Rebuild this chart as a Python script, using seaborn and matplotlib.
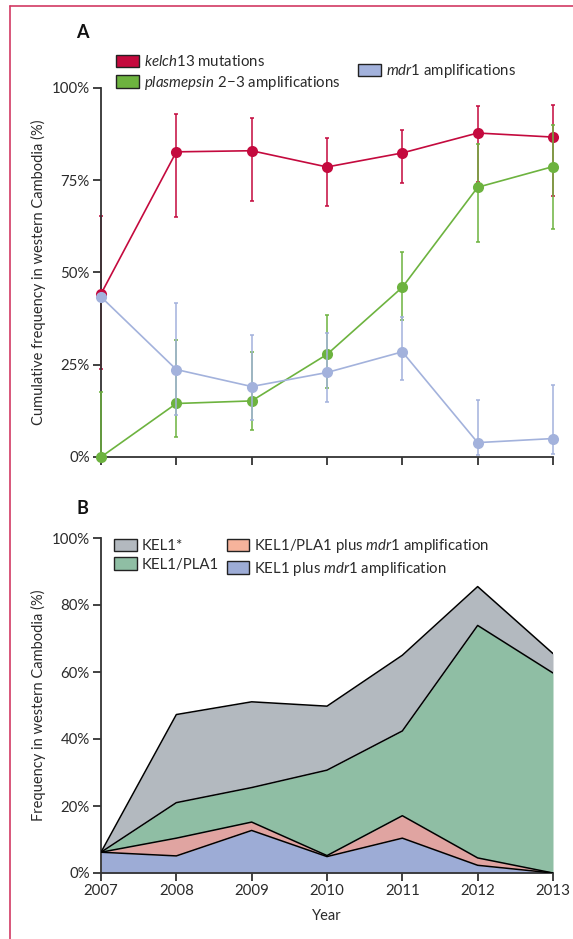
import matplotlib
matplotlib.use("Agg")
import matplotlib.pyplot as plt
import seaborn as sns
import numpy as np
import pandas as pd
from matplotlib.patches import Patch
from matplotlib.lines import Line2D
from matplotlib.ticker import FuncFormatter

# ---------------- data ----------------
years = [2007, 2008, 2009, 2010, 2011, 2012, 2013]

kelch = [44.2, 82.7, 83.0, 78.6, 82.4, 87.8, 86.7]
kelch_lo = [23.9, 65.1, 69.5, 68.1, 74.2, 74.4, 70.8]
kelch_hi = [65.4, 93.0, 91.9, 86.4, 88.6, 95.2, 95.4]

plas = [0.0, 14.5, 15.2, 27.8, 46.0, 73.1, 78.7]
plas_lo = [0.0, 5.5, 7.3, 18.8, 37.0, 58.2, 61.7]
plas_hi = [17.7, 31.7, 28.5, 38.5, 55.5, 84.8, 90.0]

mdr = [43.4, 23.7, 19.1, 22.9, 28.5, 3.9, 5.0]
mdr_lo = [43.4, 11.4, 10.0, 14.8, 20.9, 0.5, 0.7]
mdr_hi = [43.4, 41.6, 33.1, 33.5, 37.9, 15.4, 19.5]

# panel B layers (stacked, bottom to top)
kel1_mdr1 = [6.2, 5.1, 12.7, 4.9, 10.4, 2.3, 0.0]
kel1pla1_mdr1 = [0.0, 5.3, 2.5, 0.3, 6.7, 2.2, 0.0]
kel1pla1 = [0.0, 10.6, 10.3, 25.5, 25.3, 69.4, 59.7]
kel1_star = [0.0, 26.3, 25.6, 19.1, 22.6, 11.6, 5.8]

ticks_a = [0, 25, 50, 75, 100]
ticks_b = [0, 20, 40, 60, 80, 100]

# ---------------- style ----------------
sns.set_theme(style="ticks")
plt.rcParams['font.family'] = ['Lato', 'DejaVu Sans']
plt.rcParams['mathtext.fontset'] = 'custom'
plt.rcParams['mathtext.rm'] = 'Lato'
plt.rcParams['mathtext.it'] = 'Lato:italic'

TXT = '#2b2b2b'
C_RED = '#c40a3e'
C_GREEN = '#6db33f'
C_BLUE = '#a3b2dc'

fig = plt.figure(figsize=(5.73, 9.39), dpi=100)
axA = fig.add_axes([101/573, 1-457/939, 452/573, 369/939])
axB = fig.add_axes([101/573, 1-873/939, 452/573, 335/939])

pct = FuncFormatter(lambda v, p: f"{int(v)}%")

def style_axis(ax, ticks):
    for s in ['top', 'right']:
        ax.spines[s].set_visible(False)
    for s in ['left', 'bottom']:
        ax.spines[s].set_color('#333333')
        ax.spines[s].set_linewidth(1.3)
    ax.set_xlim(2007, 2013)
    ax.set_ylim(0, 100)
    ax.set_yticks(ticks)
    ax.yaxis.set_major_formatter(pct)
    ax.set_xticks(years)
    ax.tick_params(axis='both', direction='out', length=6, width=1.3,
                   color='#333333', labelcolor=TXT, labelsize=10.8, pad=2)

# ---------------- panel A ----------------
series = [
    (kelch, kelch_lo, kelch_hi, C_RED),
    (plas, plas_lo, plas_hi, C_GREEN),
    (mdr, mdr_lo, mdr_hi, C_BLUE),
]
for z, (vals, lo, hi, col) in enumerate(series):
    v = np.array(vals); l = np.array(lo); h = np.array(hi)
    axA.errorbar(years, v, yerr=[v - l, h - v], fmt='none', ecolor=col,
                 alpha=0.85, elinewidth=1.3, capsize=1.6, capthick=1.3,
                 zorder=2 + 2*z, clip_on=False)
    df = pd.DataFrame({'year': years, 'val': vals})
    sns.lineplot(data=df, x='year', y='val', ax=axA, color=col, lw=1.2,
                 marker='o', markersize=8, markeredgewidth=0,
                 zorder=3 + 2*z, clip_on=False)

style_axis(axA, ticks_a)
axA.set_xticklabels([])
axA.set_xlabel('')
axA.set_ylabel('Cumulative frequency in western Cambodia (%)', fontsize=10.5,
               color=TXT, labelpad=4)

legkw = dict(frameon=False, fontsize=10.8, handlelength=1.5, handleheight=0.9,
             handletextpad=0.35, borderaxespad=0, borderpad=0.2)
legA1 = [Patch(facecolor=C_RED, edgecolor='#222222', lw=1.0,
               label=r'$\mathit{kelch13}$ mutations'),
         Patch(facecolor=C_GREEN, edgecolor='#222222', lw=1.0,
               label=r'$\mathit{plasmepsin\ 2\!-\!3}$ amplifications')]
legA2 = [Patch(facecolor=C_BLUE, edgecolor='#222222', lw=1.0,
               label=r'$\mathit{mdr1}$ amplifications')]
l1 = fig.legend(handles=legA1, loc='upper left', bbox_to_anchor=(113/573, 1-51/939),
                labelspacing=0.3, **legkw)
for t in l1.get_texts():
    t.set_color(TXT)
l2 = fig.legend(handles=legA2, loc='upper left', bbox_to_anchor=(355/573, 1-59/939),
                **legkw)
for t in l2.get_texts():
    t.set_color(TXT)

# ---------------- panel B ----------------
B_BLUE = '#9dacd6'
B_RED = '#e0a4a1'
B_GREEN = '#8fbea4'
B_GREY = '#b3b9bf'
layers = [kel1_mdr1, kel1pla1_mdr1, kel1pla1, kel1_star]
axB.stackplot(years, *layers, colors=[B_BLUE, B_RED, B_GREEN, B_GREY],
              linewidth=0, zorder=1)
cum = np.cumsum(np.array(layers), axis=0)
for row in cum:
    sns.lineplot(x=years, y=row, ax=axB, color='black', lw=1.1, zorder=3)

style_axis(axB, ticks_b)
axB.set_xticklabels([str(y) for y in years])
axB.set_xlabel('Year', fontsize=10.5, color=TXT, labelpad=8)
axB.set_ylabel('Frequency in western Cambodia (%)', fontsize=10.5, color=TXT,
               labelpad=4)

legB = [Patch(facecolor=B_GREY, edgecolor='#222222', lw=1.0, label='KEL1*'),
        Patch(facecolor=B_GREEN, edgecolor='#222222', lw=1.0, label='KEL1/PLA1'),
        Patch(facecolor='#f6b39b', edgecolor='#222222', lw=1.0,
              label=r'KEL1/PLA1 plus $\mathit{mdr1}$ amplification'),
        Patch(facecolor=B_BLUE, edgecolor='#222222', lw=1.0,
              label=r'KEL1 plus $\mathit{mdr1}$ amplification')]
l3 = fig.legend(handles=legB, loc='upper left', bbox_to_anchor=(111/573, 1-534/939),
                ncol=2, labelspacing=0.3, columnspacing=0.5, **legkw)
for t in l3.get_texts():
    t.set_color(TXT)

# panel letters
fig.text(76/573, 1-33/939, 'A', fontsize=13, fontweight='bold', color='#111111',
         va='center', ha='left')
fig.text(76/573, 1-508/939, 'B', fontsize=13, fontweight='bold', color='#111111',
         va='center', ha='left')

# frame lines
FR = '#d23a63'
fig.add_artist(Line2D([10/573, 10/573], [0, 1-6/939], color=FR, lw=1.2,
                      transform=fig.transFigure))
fig.add_artist(Line2D([10/573, 1], [1-6/939, 1-6/939], color=FR, lw=1.2,
                      transform=fig.transFigure))

fig.savefig('out.png', dpi=100)
